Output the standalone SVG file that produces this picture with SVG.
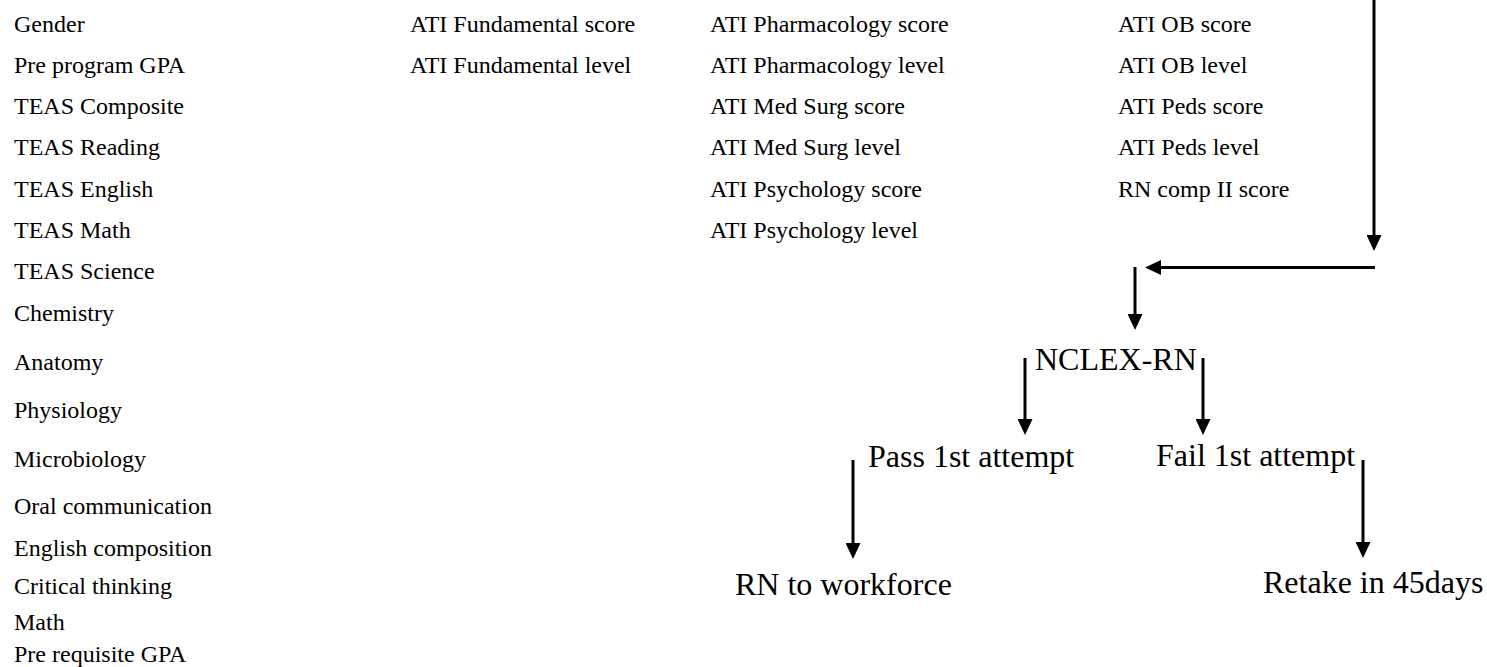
<svg xmlns="http://www.w3.org/2000/svg" width="1487" height="667" viewBox="0 0 1487 667">
<style>
text{font-family:"Liberation Serif","Times New Roman",serif;fill:#000}
.s{font-size:24px}
.l{font-size:32px}
.c{stroke:#000;stroke-width:3;fill:none}
</style>
<defs>
<marker id="ah" viewBox="0 0 16 15" refX="6" refY="7.5" markerWidth="16" markerHeight="15" markerUnits="userSpaceOnUse" orient="auto">
<path d="M0,0 L16,7.5 L0,15 z" fill="#000"/>
</marker>
</defs>
<rect width="1487" height="667" fill="#fff"/>
<g id="col1" class="s">
<text class="s" x="14" y="31.5">Gender</text>
<text class="s" x="14" y="72.7">Pre program GPA</text>
<text class="s" x="14" y="114">TEAS Composite</text>
<text class="s" x="14" y="155.3">TEAS Reading</text>
<text class="s" x="14" y="196.6">TEAS English</text>
<text class="s" x="14" y="237.9">TEAS Math</text>
<text class="s" x="14" y="279.2">TEAS Science</text>
<text class="s" x="14" y="320.5">Chemistry</text>
<text class="s" x="14" y="370">Anatomy</text>
<text class="s" x="14" y="418">Physiology</text>
<text class="s" x="14" y="467">Microbiology</text>
<text class="s" x="14" y="514">Oral communication</text>
<text class="s" x="14" y="556">English composition</text>
<text class="s" x="14" y="593.5">Critical thinking</text>
<text class="s" x="14" y="630">Math</text>
<text class="s" x="14" y="661.5">Pre requisite GPA</text>
</g>
<g id="col2">
<text class="s" x="410" y="31.5">ATI Fundamental score</text>
<text class="s" x="410" y="72.7">ATI Fundamental level</text>
</g>
<g id="col3">
<text class="s" x="710" y="31.5">ATI Pharmacology score</text>
<text class="s" x="710" y="72.7">ATI Pharmacology level</text>
<text class="s" x="710" y="114">ATI Med Surg score</text>
<text class="s" x="710" y="155.3">ATI Med Surg level</text>
<text class="s" x="710" y="196.6">ATI Psychology score</text>
<text class="s" x="710" y="237.9">ATI Psychology level</text>
</g>
<g id="col4">
<text class="s" x="1118" y="31.5">ATI OB score</text>
<text class="s" x="1118" y="72.7">ATI OB level</text>
<text class="s" x="1118" y="114">ATI Peds score</text>
<text class="s" x="1118" y="155.3">ATI Peds level</text>
<text class="s" x="1118" y="196.6">RN comp II score</text>
</g>
<g id="nclex"><text class="l" x="1035" y="370">NCLEX-RN</text></g>
<g id="pass"><text class="l" x="868" y="467">Pass 1st attempt</text></g>
<g id="fail"><text class="l" x="1156" y="466">Fail 1st attempt</text></g>
<g id="workforce"><text class="l" x="735" y="595">RN to workforce</text></g>
<g id="retake"><text class="l" x="1263" y="593">Retake in 45days</text></g>
<g id="connectors">
<path class="c" d="M1374,0 V241" marker-end="url(#ah)"/>
<path class="c" d="M1375,267.5 H1155" marker-end="url(#ah)"/>
<path class="c" d="M1135,267 V320" marker-end="url(#ah)"/>
<path class="c" d="M1025,358 V425" marker-end="url(#ah)"/>
<path class="c" d="M1203,358 V425" marker-end="url(#ah)"/>
<path class="c" d="M853,460 V549" marker-end="url(#ah)"/>
<path class="c" d="M1363,460 V548" marker-end="url(#ah)"/>
</g>
</svg>
